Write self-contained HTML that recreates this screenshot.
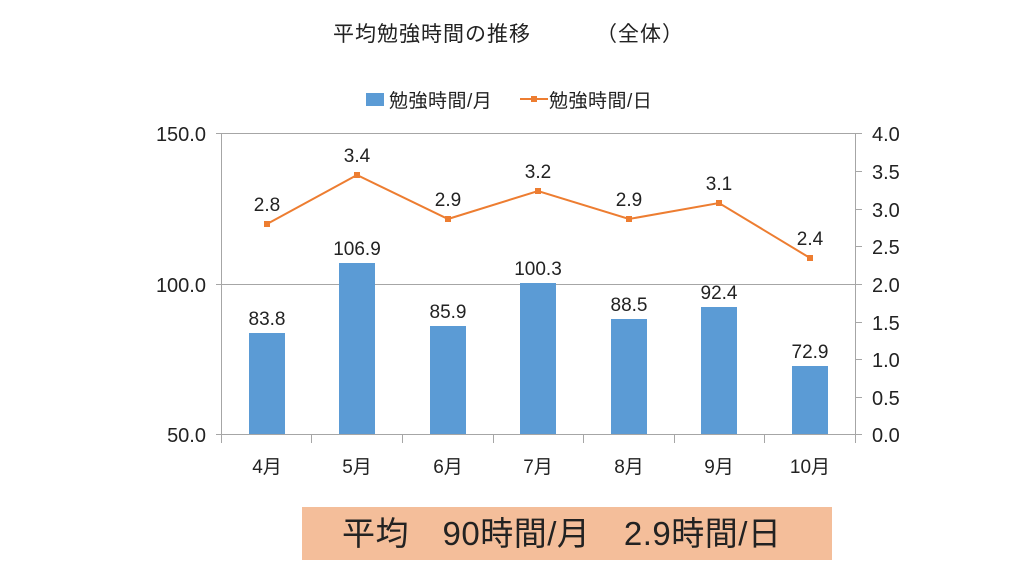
<!DOCTYPE html>
<html><head><meta charset="utf-8"><style>
body{margin:0;background:#fff;}
svg text{font-family:"Liberation Sans","Noto Sans CJK JP",sans-serif;fill:#222;}
</style></head><body>
<svg width="1024" height="576" viewBox="0 0 1024 576" xmlns="http://www.w3.org/2000/svg">
<text x="333" y="41" font-size="21" letter-spacing="1">平均勉強時間の推移</text>
<text x="596" y="41" font-size="21" letter-spacing="1">（全体）</text>
<rect x="366" y="93" width="18" height="13" fill="#5B9BD5"/>
<text x="389" y="107" font-size="19" letter-spacing="0.5">勉強時間/月</text>
<line x1="520" y1="99" x2="548" y2="99" stroke="#ED7D31" stroke-width="2"/>
<rect x="531" y="96" width="6" height="6" fill="#ED7D31"/>
<text x="549" y="107" font-size="19" letter-spacing="0.5">勉強時間/日</text>
<g stroke="#a6a6a6" stroke-width="1">
<line x1="222" y1="133.5" x2="856" y2="133.5"/>
<line x1="222" y1="284.5" x2="856" y2="284.5"/>
<line x1="216" y1="434.5" x2="856" y2="434.5"/>
<line x1="216" y1="133.5" x2="222" y2="133.5"/>
<line x1="216" y1="284.5" x2="222" y2="284.5"/>
<line x1="221.5" y1="133" x2="221.5" y2="443"/>
<line x1="855.5" y1="133" x2="855.5" y2="443"/>
<line x1="311.5" y1="434" x2="311.5" y2="443"/>
<line x1="402.5" y1="434" x2="402.5" y2="443"/>
<line x1="493.5" y1="434" x2="493.5" y2="443"/>
<line x1="583.5" y1="434" x2="583.5" y2="443"/>
<line x1="674.5" y1="434" x2="674.5" y2="443"/>
<line x1="764.5" y1="434" x2="764.5" y2="443"/>
<line x1="856" y1="133.5" x2="862" y2="133.5"/>
<line x1="856" y1="171.5" x2="862" y2="171.5"/>
<line x1="856" y1="209.5" x2="862" y2="209.5"/>
<line x1="856" y1="246.5" x2="862" y2="246.5"/>
<line x1="856" y1="284.5" x2="862" y2="284.5"/>
<line x1="856" y1="322.5" x2="862" y2="322.5"/>
<line x1="856" y1="359.5" x2="862" y2="359.5"/>
<line x1="856" y1="397.5" x2="862" y2="397.5"/>
<line x1="856" y1="434.5" x2="862" y2="434.5"/>
</g>
<g font-size="20" text-anchor="end">
<text x="206" y="141">150.0</text><text x="206" y="292">100.0</text><text x="206" y="442">50.0</text>
</g>
<g font-size="20">
<text x="872" y="141">4.0</text><text x="872" y="179">3.5</text><text x="872" y="217">3.0</text>
<text x="872" y="254">2.5</text><text x="872" y="292">2.0</text><text x="872" y="330">1.5</text>
<text x="872" y="367">1.0</text><text x="872" y="405">0.5</text><text x="872" y="442">0.0</text>
</g>
<g fill="#5B9BD5">
<rect x="249" y="333" width="36" height="101"/>
<rect x="339" y="263" width="36" height="171"/>
<rect x="430" y="326" width="36" height="108"/>
<rect x="520" y="283" width="36" height="151"/>
<rect x="611" y="319" width="36" height="115"/>
<rect x="701" y="307" width="36" height="127"/>
<rect x="792" y="366" width="36" height="68"/>
</g>
<g font-size="19" text-anchor="middle">
<text x="267" y="325">83.8</text><text x="357" y="255">106.9</text><text x="448" y="318">85.9</text>
<text x="538" y="275">100.3</text><text x="629" y="311">88.5</text><text x="719" y="299">92.4</text><text x="810" y="358">72.9</text>
</g>
<polyline points="267,224 357,175 448,219 538,191 629,219 719,203 810,258" fill="none" stroke="#ED7D31" stroke-width="2"/>
<g fill="#ED7D31">
<rect x="264" y="221" width="6" height="6"/><rect x="354" y="172" width="6" height="6"/>
<rect x="445" y="216" width="6" height="6"/><rect x="535" y="188" width="6" height="6"/>
<rect x="626" y="216" width="6" height="6"/><rect x="716" y="200" width="6" height="6"/>
<rect x="807" y="255" width="6" height="6"/>
</g>
<g font-size="19" text-anchor="middle">
<text x="267" y="211">2.8</text><text x="357" y="162">3.4</text><text x="448" y="206">2.9</text>
<text x="538" y="178">3.2</text><text x="629" y="206">2.9</text><text x="719" y="190">3.1</text><text x="810" y="245">2.4</text>
</g>
<g font-size="19" text-anchor="middle">
<text x="267" y="473">4月</text><text x="357" y="473">5月</text><text x="448" y="473">6月</text>
<text x="538" y="473">7月</text><text x="629" y="473">8月</text><text x="719" y="473">9月</text><text x="810" y="473">10月</text>
</g>
<rect x="302" y="507" width="530" height="53" fill="#F4BE9A"/>
<text x="342" y="545" font-size="33" letter-spacing="0.5">平均　90時間/月　2.9時間/日</text>
</svg>
</body></html>
